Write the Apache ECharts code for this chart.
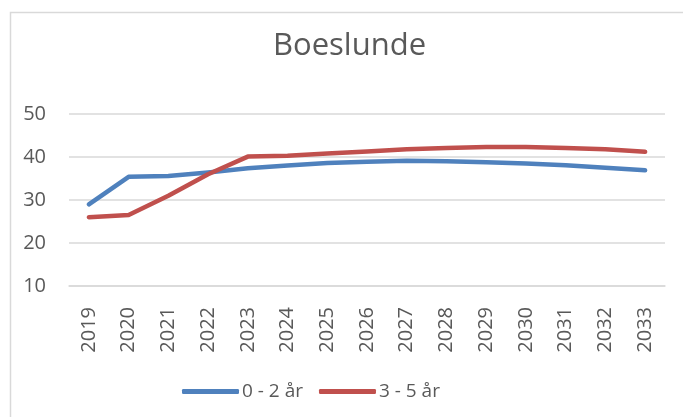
<!DOCTYPE html>
<html>
<head>
<meta charset="utf-8">
<script src="https://cdn.jsdelivr.net/npm/echarts@6/dist/echarts.min.js"></script>
<style>html,body{margin:0;padding:0;background:#fff}#c{width:683px;height:417px}</style>
</head>
<body>
<div id="c"></div>
<script>
const years = ['2019','2020','2021','2022','2023','2024','2025','2026','2027','2028','2029','2030','2031','2032','2033'];
const age02 = [29.0, 35.4, 35.6, 36.4, 37.4, 38.0, 38.6, 38.9, 39.1, 39.0, 38.8, 38.5, 38.1, 37.5, 36.9];
const age35 = [26.0, 26.5, 31.0, 36.0, 40.1, 40.3, 40.8, 41.3, 41.8, 42.1, 42.3, 42.3, 42.1, 41.8, 41.2];
const seriesNames = ['0 - 2 år', '3 - 5 år'];
const yTicks = [10, 20, 30, 40, 50];

const font = '"Open Sans", "Liberation Sans", sans-serif';
const txt = '#595959';
const chart = echarts.init(document.getElementById('c'), null, {renderer: 'canvas'});
chart.setOption({
  animation: false,
  graphic: [{
    type: 'rect', left: 8, top: 10, shape: {x: 0, y: 0, width: 700, height: 420},
    style: {fill: 'none', stroke: '#d9d9d9', lineWidth: 1.5}, silent: true
  }],
  title: {
    text: 'Boeslunde', left: 268, top: 26,
    textStyle: {fontFamily: font, fontSize: 31, fontWeight: 'normal', color: txt}
  },
  legend: {
    top: 377, left: 177, itemWidth: 57, itemHeight: 5, itemGap: 16,
    icon: 'roundRect',
    textStyle: {fontFamily: font, fontSize: 19, color: txt, padding: [0, 0, 0, -2]},
    data: seriesNames
  },
  grid: {left: 69, right: 18, top: 114, bottom: 131},
  xAxis: {
    type: 'category', data: years, boundaryGap: true,
    axisLine: {show: true, lineStyle: {color: '#d9d9d9', width: 1.5}},
    axisTick: {show: false},
    axisLabel: {rotate: 90, margin: 21, fontFamily: font, fontSize: 20, color: txt}
  },
  yAxis: {
    type: 'value', min: yTicks[0], max: yTicks[yTicks.length - 1], interval: 10,
    axisLine: {show: false}, axisTick: {show: false},
    axisLabel: {margin: 23, fontFamily: font, fontSize: 20, color: txt},
    splitLine: {lineStyle: {color: '#d9d9d9', width: 1.5}}
  },
  series: [
    {name: seriesNames[0], type: 'line', data: age02, symbol: 'none', color: '#4F81BD',
     lineStyle: {width: 4.5, cap: 'round', join: 'round'}},
    {name: seriesNames[1], type: 'line', data: age35, symbol: 'none', color: '#C0504D',
     lineStyle: {width: 4.5, cap: 'round', join: 'round'}}
  ]
});
</script>
</body>
</html>
